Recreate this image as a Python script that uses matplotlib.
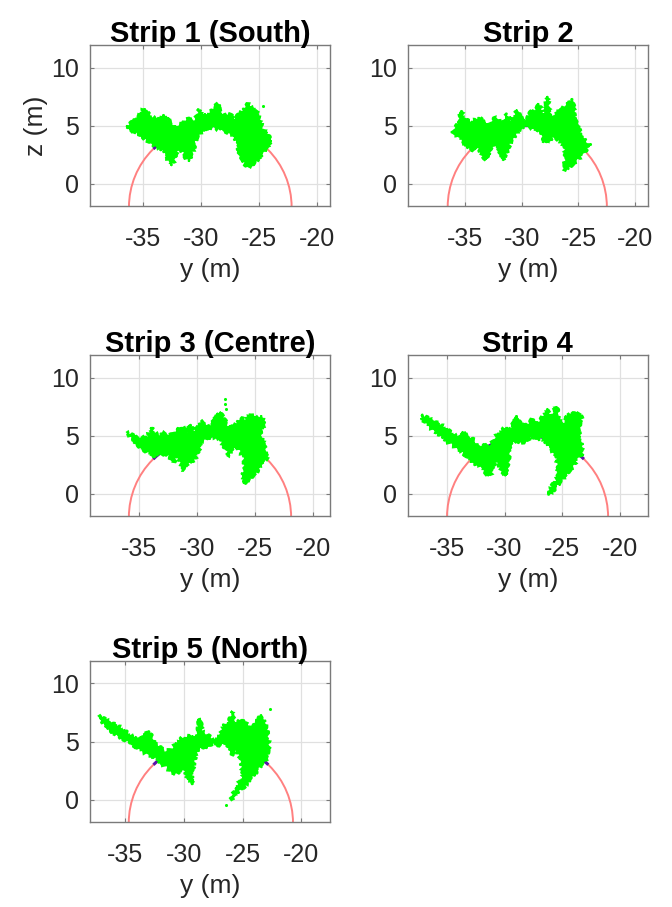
import matplotlib
matplotlib.use('Agg')
import matplotlib.pyplot
from matplotlib.patches import Arc, Polygon

matplotlib.pyplot.rcParams['font.family'] = ['Liberation Sans', 'DejaVu Sans']
matplotlib.pyplot.rcParams['axes.unicode_minus'] = False

# strip titles and the fitted arch (centre y, centre z, radius)
titles = ['Strip 1 (South)', 'Strip 2', 'Strip 3 (Centre)', 'Strip 4', 'Strip 5 (North)']
centre_y = [-29.2, -29.5, -28.9, -28.0, -27.7]
centre_z = -2.0
radius = 7.0
arc_from = 45.6   # degrees, part of the arch hidden under the points
arc_to = 134.4

xlims = [(-39.55, -18.9), (-40.0, -18.9), (-39.25, -18.55), (-38.4, -17.55), (-38.0, -17.55)]
ylim = (-1.9, 11.95)
xticks = [-35, -30, -25, -20]
yticks = [0, 5, 10]

# outlines of the green point clouds (y, z)
strip1_outline = [(-36.43, 4.91), (-35.91, 5.29), (-35.33, 5.86), (-34.90, 6.51), (-34.61, 6.14),
                  (-34.18, 5.77), (-33.60, 5.57), (-33.03, 5.77), (-32.74, 5.43), (-32.31, 4.86),
                  (-31.73, 5.14), (-31.15, 5.57), (-30.58, 5.43), (-30.14, 6.43), (-29.71, 5.86),
                  (-29.14, 6.29), (-28.56, 6.86), (-28.13, 5.86), (-27.55, 6.0), (-27.12, 5.57),
                  (-26.54, 6.14), (-25.97, 6.86), (-25.53, 6.57), (-25.10, 6.0), (-24.67, 4.71),
                  (-24.24, 4.14), (-23.86, 3.71),
                  (-24.24, 3.14), (-24.81, 2.43), (-25.53, 1.71), (-25.97, 1.43), (-26.34, 1.86),
                  (-26.69, 2.71), (-26.97, 3.71), (-27.41, 4.29), (-28.13, 4.57), (-28.99, 4.86),
                  (-29.86, 4.71), (-30.43, 3.71), (-30.86, 2.29), (-31.15, 2.0), (-31.58, 2.71),
                  (-32.02, 3.0), (-32.31, 2.0), (-32.51, 1.57), (-32.89, 2.14), (-33.31, 2.86),
                  (-33.89, 3.14), (-34.61, 3.71), (-35.33, 4.29), (-36.05, 4.63)]
strip1_dots = [(-24.67, 6.71), (-33.3, 5.9)]

strip2_outline = [(-36.07, 4.51), (-35.92, 4.71), (-35.49, 5.23), (-35.35, 6.24), (-34.91, 5.52),
                  (-34.48, 5.37), (-33.90, 5.66), (-33.47, 5.52), (-33.03, 4.94), (-32.60, 5.37),
                  (-32.31, 5.80), (-32.02, 5.52), (-31.73, 4.94), (-31.30, 6.09), (-31.01, 5.23),
                  (-30.43, 6.38), (-30.14, 5.80), (-29.71, 5.23), (-29.28, 6.09), (-28.84, 6.38),
                  (-28.41, 6.81), (-28.12, 5.80), (-27.69, 7.53), (-27.54, 5.80), (-27.11, 5.95),
                  (-26.68, 6.38), (-26.24, 6.67), (-25.66, 7.10), (-25.46, 7.18), (-25.38, 5.80),
                  (-25.09, 4.94), (-24.80, 4.37), (-24.36, 3.65), (-24.08, 3.22),
                  (-24.51, 2.64), (-25.23, 1.93), (-25.95, 1.35), (-26.33, 1.21), (-26.24, 1.93),
                  (-26.10, 2.64), (-26.39, 3.51), (-27.11, 4.08), (-27.54, 3.65), (-27.98, 3.51),
                  (-28.27, 4.37), (-28.84, 4.66), (-29.42, 4.94), (-30.14, 4.66), (-30.58, 4.08),
                  (-31.01, 3.51), (-31.45, 2.35), (-31.73, 2.07), (-32.02, 2.93), (-32.60, 3.51),
                  (-33.03, 2.07), (-33.32, 2.21), (-33.76, 3.07), (-34.19, 3.22), (-34.34, 2.79),
                  (-34.91, 3.36), (-35.49, 3.94), (-35.92, 4.22)]
strip2_dots = [(-24.0, 3.4), (-35.35, 6.3)]

strip3_outline = [(-36.06, 5.32), (-35.43, 4.94), (-34.86, 4.80), (-34.29, 4.94), (-33.94, 5.75),
                  (-33.71, 5.37), (-33.29, 5.09), (-32.86, 5.23), (-32.57, 4.80), (-32.29, 5.09),
                  (-31.86, 5.37), (-31.43, 5.80), (-31.14, 5.66), (-30.86, 5.23), (-30.63, 6.01),
                  (-30.29, 5.37), (-29.86, 6.09), (-29.43, 6.24), (-29.0, 5.80), (-28.57, 6.24),
                  (-28.29, 6.81), (-28.0, 7.10), (-27.43, 5.95), (-27.14, 5.66), (-26.71, 5.95),
                  (-26.29, 6.52), (-25.86, 6.38), (-25.57, 6.81), (-25.14, 6.67), (-24.71, 6.52),
                  (-24.43, 6.67), (-24.23, 6.0), (-24.57, 5.37), (-24.14, 4.22), (-24.0, 3.07),
                  (-24.43, 2.79), (-24.86, 1.93), (-25.43, 1.35), (-26.0, 0.92), (-26.14, 1.49),
                  (-25.94, 2.21), (-26.0, 3.07), (-26.29, 3.65), (-26.71, 4.22), (-27.14, 3.65),
                  (-27.29, 3.22), (-27.71, 4.22), (-28.14, 4.80), (-28.86, 4.94), (-29.29, 4.66),
                  (-29.57, 4.51), (-29.86, 3.79), (-30.29, 2.79), (-30.86, 2.64), (-31.14, 1.93),
                  (-31.43, 2.50), (-31.71, 3.36), (-32.0, 2.79), (-32.29, 3.07), (-32.57, 3.36),
                  (-33.14, 3.51), (-33.71, 3.22), (-34.14, 3.51), (-34.57, 3.79), (-35.14, 4.22),
                  (-35.71, 4.80)]
strip3_dots = [(-27.63, 8.19), (-27.58, 7.75), (-27.55, 7.35), (-24.2, 6.2)]

strip4_outline = [(-37.23, 6.81), (-36.43, 6.38), (-35.56, 5.95), (-34.70, 5.37), (-33.83, 4.80),
                  (-33.60, 5.37), (-33.26, 4.94), (-32.68, 4.71), (-32.39, 4.08), (-31.24, 4.22),
                  (-30.81, 4.94), (-30.37, 5.37), (-29.80, 5.80), (-29.51, 5.52), (-28.88, 6.72),
                  (-28.50, 5.80), (-27.93, 6.09), (-27.64, 6.38), (-27.20, 5.95), (-26.77, 6.52),
                  (-26.28, 7.30), (-26.05, 6.38), (-25.48, 7.53), (-25.19, 6.38), (-24.90, 5.95),
                  (-24.61, 6.67), (-24.03, 6.95), (-23.75, 6.81), (-23.46, 6.95), (-23.31, 6.52),
                  (-23.60, 5.52), (-23.31, 4.37), (-23.17, 3.51), (-23.46, 3.22),
                  (-23.75, 2.93), (-24.03, 2.36), (-24.61, 1.78), (-25.19, 0.92), (-25.76, 0.34),
                  (-26.20, -0.09), (-26.05, 0.34), (-25.48, 1.35), (-25.33, 2.21), (-25.48, 3.07),
                  (-25.91, 3.79), (-26.34, 4.22), (-26.77, 4.80), (-27.20, 4.66), (-27.64, 4.94),
                  (-28.07, 4.66), (-28.50, 4.37), (-29.22, 4.66), (-29.51, 4.08), (-29.65, 3.07),
                  (-29.80, 2.21), (-29.86, 1.55), (-30.23, 1.93), (-30.52, 2.64), (-30.81, 2.93),
                  (-30.95, 2.36), (-31.10, 1.93), (-31.24, 1.64), (-31.67, 1.78), (-32.10, 2.36),
                  (-32.68, 2.64), (-33.26, 3.22), (-34.12, 3.94), (-34.99, 4.51), (-35.85, 5.23),
                  (-36.57, 5.80), (-37.14, 6.38)]
strip4_dots = []

strip5_outline = [(-37.26, 7.2), (-36.41, 6.71), (-35.56, 6.29), (-34.70, 5.71), (-33.85, 5.14),
                  (-32.93, 5.91), (-32.71, 5.43), (-32.56, 5.0), (-32.14, 4.57), (-31.57, 4.14),
                  (-31.0, 4.43), (-30.57, 5.0), (-30.14, 5.29), (-29.86, 5.43), (-29.29, 5.57),
                  (-29.0, 5.0), (-28.66, 7.0), (-28.43, 5.86), (-28.01, 5.57), (-27.44, 5.14),
                  (-27.01, 5.29), (-26.58, 6.43), (-26.30, 6.14), (-25.87, 7.63), (-25.58, 6.43),
                  (-25.16, 6.86), (-24.73, 6.57), (-24.30, 6.0), (-23.87, 6.57), (-23.39, 7.29),
                  (-22.9, 6.2), (-22.73, 4.57), (-23.02, 3.43), (-23.45, 2.86),
                  (-24.0, 2.2), (-24.6, 1.4), (-25.3, 0.7), (-26.0, 0.0), (-25.7, 0.7),
                  (-25.03, 2.0), (-25.17, 3.43), (-25.44, 4.43), (-25.87, 3.86), (-26.15, 4.43),
                  (-26.44, 4.86), (-27.01, 4.71), (-27.58, 4.86), (-28.01, 4.57), (-28.43, 4.43),
                  (-28.86, 4.29), (-29.15, 3.29), (-29.29, 2.14), (-29.34, 1.29), (-29.72, 1.71),
                  (-30.0, 2.86), (-30.28, 2.57), (-30.71, 2.14), (-31.14, 2.43), (-31.57, 2.86),
                  (-31.99, 3.14), (-32.42, 3.57), (-32.99, 3.86), (-33.56, 4.14), (-34.42, 4.71),
                  (-35.27, 5.29), (-36.13, 5.86), (-36.84, 6.57)]
strip5_dots = [(-22.64, 7.77), (-26.38, -0.43)]

outlines = [strip1_outline, strip2_outline, strip3_outline, strip4_outline, strip5_outline]
dots = [strip1_dots, strip2_dots, strip3_dots, strip4_dots, strip5_dots]

# axes boxes in figure fractions
lefts = [0.134, 0.607, 0.134, 0.607, 0.134]
bottoms = [0.773, 0.773, 0.431, 0.431, 0.094]
width = 0.357
height = 0.1775

green = '#00ff00'
fig = matplotlib.pyplot.figure(figsize=(6.72, 9.07), dpi=100)

for i in range(5):
    ax = fig.add_axes([lefts[i], bottoms[i], width, height])
    c = (centre_y[i], centre_z)
    ax.add_patch(Arc(c, 2 * radius, 2 * radius, theta1=0, theta2=180,
                     color='#ff8080', lw=1.4, zorder=2))
    ax.add_patch(Arc(c, 2 * radius, 2 * radius, theta1=arc_from, theta2=arc_to,
                     color='#5a14aa', lw=2.2, zorder=3))
    cloud = Polygon(outlines[i], closed=True, facecolor=green, edgecolor=green,
                    lw=1.4, zorder=4)
    # rough edge so the outline reads like scattered points
    cloud.set_sketch_params(scale=1.8, length=4, randomness=10)
    ax.add_patch(cloud)
    if dots[i]:
        ax.scatter([p[0] for p in dots[i]], [p[1] for p in dots[i]], s=5, color=green,
                   zorder=4, linewidths=0)

    ax.set_xlim(xlims[i])
    ax.set_ylim(ylim)
    ax.set_xticks(xticks)
    ax.set_yticks(yticks)
    ax.grid(True, color='#e0e0e0', lw=0.9)
    ax.set_axisbelow(True)
    for s in ax.spines.values():
        s.set_color('#7a7a7a')
        s.set_linewidth(1.0)
    ax.tick_params(direction='in', length=3, color='#7a7a7a', labelsize=18,
                   labelcolor='#262626', top=True, right=True)
    ax.tick_params(axis='x', pad=15)
    ax.tick_params(axis='y', pad=8)
    ax.set_title(titles[i], fontsize=21, fontweight='bold', pad=2)
    ax.set_xlabel('y (m)', fontsize=19, color='#262626', labelpad=5)
    if i == 0:
        ax.set_ylabel('z (m)', fontsize=19, color='#262626', labelpad=2)

fig.savefig('out.png', dpi=100)
